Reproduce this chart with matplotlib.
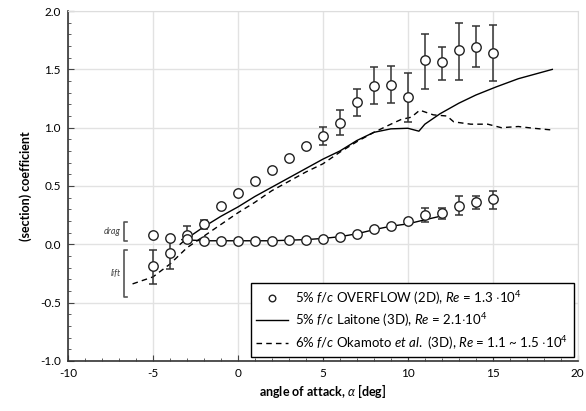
import numpy as np
import matplotlib
matplotlib.use("Agg")
import matplotlib.pyplot as plt
from matplotlib.ticker import MultipleLocator

plt.rcParams["font.family"] = ["Lato", "DejaVu Sans"]
plt.rcParams["mathtext.fontset"] = "custom"
plt.rcParams["mathtext.rm"] = "Lato"
plt.rcParams["mathtext.it"] = "Lato:italic"
plt.rcParams["mathtext.bf"] = "Lato:bold"
plt.rcParams["axes.unicode_minus"] = False

# ── OVERFLOW (2D) section coefficients ──────────────────────
alpha = np.arange(-5, 16)
cl = [-0.19, -0.075, 0.08, 0.17, 0.33, 0.44, 0.545, 0.64, 0.74, 0.84,
      0.93, 1.04, 1.22, 1.36, 1.37, 1.26, 1.58, 1.56, 1.67, 1.69, 1.64]
cl_lo = [0.15, 0.135, 0.05, 0.04, 0, 0, 0, 0, 0, 0,
         0.08, 0.10, 0.12, 0.16, 0.16, 0.21, 0.25, 0.15, 0.26, 0.17, 0.24]
cl_hi = [0.145, 0.11, 0.075, 0.04, 0, 0, 0, 0, 0, 0,
         0.08, 0.11, 0.11, 0.16, 0.16, 0.21, 0.22, 0.13, 0.23, 0.18, 0.24]
cd = [0.077, 0.057, 0.045, 0.03, 0.03, 0.03, 0.03, 0.03, 0.033, 0.034,
      0.049, 0.066, 0.092, 0.129, 0.16, 0.197, 0.25, 0.266, 0.33, 0.36, 0.39]
cd_lo = [0] * 16 + [0.06, 0.045, 0.08, 0.06, 0.09]
cd_hi = [0] * 16 + [0.06, 0.045, 0.08, 0.05, 0.07]

# ── Laitone (3D) ────────────────────────────────────────────
lai_a = [-3.4, -3, -2, -1, 0, 1, 2, 3, 4, 5, 6, 7, 8, 9, 10, 10.65,
         11, 11.9, 13, 14, 15.2, 16.5, 17.5, 18.5]
lai_cl = [0.0, 0.05, 0.15, 0.24, 0.32, 0.41, 0.49, 0.57, 0.65, 0.73, 0.80,
          0.89, 0.96, 0.99, 0.995, 0.97, 1.03, 1.12, 1.21, 1.28, 1.35,
          1.42, 1.46, 1.50]
lai_cd_a = [-3.3, -2, -1, 0, 1, 2, 3, 4, 5, 6, 7, 8, 9, 10, 11, 12.2]
lai_cd = [0.04, 0.03, 0.03, 0.03, 0.03, 0.03, 0.035, 0.04, 0.05, 0.065,
          0.09, 0.125, 0.155, 0.175, 0.21, 0.25]

# ── Okamoto et al. (3D) ─────────────────────────────────────
oka_a = [-6.2, -5, -4, -3, -2, -1, 0, 1, 2, 3, 4, 5, 6, 7, 8, 9, 9.6,
         10.2, 10.7, 11.5, 12.3, 12.7, 13.7, 14.7, 15.5, 16.5, 17.4, 18.5]
oka_cl = [-0.34, -0.28, -0.17, -0.03, 0.07, 0.17, 0.27, 0.36, 0.46, 0.54,
          0.62, 0.69, 0.79, 0.88, 0.96, 1.03, 1.07, 1.09, 1.15, 1.11, 1.10,
          1.05, 1.03, 1.03, 1.0, 1.01, 0.995, 0.98]

fig = plt.figure(figsize=(5.86, 4.11), dpi=100)
ax = fig.add_axes([0.116, 0.122, 0.87, 0.851])

ax.grid(True, which="major", color="#e2e2e2", lw=1.0, zorder=0)
ax.set_axisbelow(True)

err_kw = dict(fmt="none", ecolor="#333333", elinewidth=1.1, capsize=3,
              capthick=1.1, zorder=3)
m_cl = np.array(cl_lo) + np.array(cl_hi) > 0
m_cd = np.array(cd_lo) + np.array(cd_hi) > 0
ax.errorbar(alpha[m_cl], np.array(cl)[m_cl],
            yerr=[np.array(cl_lo)[m_cl], np.array(cl_hi)[m_cl]], **err_kw)
ax.errorbar(alpha[m_cd], np.array(cd)[m_cd],
            yerr=[np.array(cd_lo)[m_cd], np.array(cd_hi)[m_cd]], **err_kw)

ax.plot(lai_a, lai_cl, color="black", lw=1.0, zorder=2,
        label=r"5% $f/c$ Laitone (3D), $Re$ = 2.1$\cdot$10$^4$")
ax.plot(lai_cd_a, lai_cd, color="black", lw=1.0, zorder=2)
ax.plot(oka_a, oka_cl, color="black", lw=1.0, ls=(0, (4, 3)), zorder=2,
        label=r"6% $f/c$ Okamoto $et\ al.$ (3D), $Re$ = 1.1 ~ 1.5 $\cdot$10$^4$")

mk = dict(ls="none", marker="o", ms=6.8, mfc="white", mec="#222222", mew=1.0,
          zorder=4)
ax.plot(alpha, cl, label=r"5% $f/c$ OVERFLOW (2D), $Re$ = 1.3 $\cdot$10$^4$", **mk)
ax.plot(alpha, cd, **mk)

# drag / lift brackets
bc = "#555555"
for y0, y1, txt in [(0.19, 0.026, "drag"), (-0.045, -0.45, "lift")]:
    ax.plot([-6.5, -6.7, -6.7, -6.5], [y0, y0, y1, y1], color=bc, lw=1.2,
            zorder=3, clip_on=False)
    ax.text(-6.9, (y0 + y1) / 2, txt, ha="right", va="center",
            fontsize=6.5, style="italic", color="#444444")

ax.set_xlim(-10, 20)
ax.set_ylim(-1.0, 2.0)
ax.xaxis.set_major_locator(MultipleLocator(5))
ax.xaxis.set_minor_locator(MultipleLocator(1))
ax.yaxis.set_major_locator(MultipleLocator(0.5))
ax.yaxis.set_minor_locator(MultipleLocator(0.1))
ax.set_yticks(np.arange(-1.0, 2.01, 0.5))
ax.set_yticklabels([f"{v:.1f}" for v in np.arange(-1.0, 2.01, 0.5)])
ax.tick_params(which="both", direction="in", top=False, right=False,
               labelsize=8.5, color="#444444", pad=5)
ax.tick_params(which="major", length=4)
ax.tick_params(which="minor", length=2.5)

for s in ["top", "right"]:
    ax.spines[s].set_color("#dddddd")
for s in ["left", "bottom"]:
    ax.spines[s].set_color("#333333")
    ax.spines[s].set_linewidth(1.2)

ax.set_xlabel(r"angle of attack, $\alpha$ [deg]", fontsize=9,
              fontweight="bold", labelpad=2)
ax.set_ylabel("(section) coefficient", fontsize=9, fontweight="bold",
              labelpad=6)

h, l = ax.get_legend_handles_labels()
order = [2, 0, 1]
leg = ax.legend([h[i] for i in order], [l[i] for i in order],
                loc="lower right", fontsize=9.5, frameon=True, fancybox=False,
                edgecolor="black", framealpha=1, borderaxespad=0.3,
                handlelength=2.4, labelspacing=0.35, markerscale=0.7,
                handletextpad=0.6)
leg.get_frame().set_linewidth(1.0)

fig.savefig("out.png", dpi=100, facecolor="white")
